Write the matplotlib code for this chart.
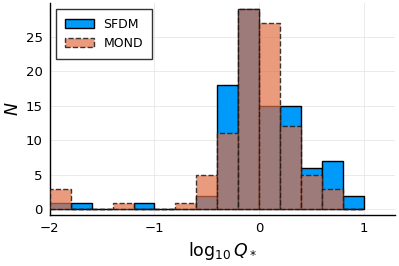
import matplotlib.pyplot as plt
import numpy as np

# bin edges of log10 Q*
edges = np.round(np.arange(-2.0, 1.0001, 0.2), 2)
sfdm_counts = [1, 1, 0, 0, 1, 0, 0, 2, 18, 29, 15, 15, 6, 7, 2]
mond_counts = [3, 0, 0, 1, 0, 0, 1, 5, 11, 29, 27, 12, 5, 3, 0]

fig = plt.figure(figsize=(3.99, 2.66), dpi=100)
ax = fig.add_axes([0.125, 0.19, 0.865, 0.8])

centers = edges[:-1] + 0.1
ax.hist(centers, bins=edges, weights=sfdm_counts, color='#009AFA',
        edgecolor='black', linewidth=1.0, label='SFDM', zorder=2)
ax.hist(centers, bins=edges, weights=mond_counts, color=(0.886, 0.435, 0.275, 0.7),
        edgecolor=(0.1, 0.1, 0.1, 0.85), linewidth=1.0, linestyle='--', label='MOND', zorder=3)

ax.set_xlim(-2, 1.3)
ax.set_ylim(-0.87, 29.9)
ax.set_xticks([-2, -1, 0, 1])
ax.set_yticks([0, 5, 10, 15, 20, 25])
ax.grid(True, color='#e6e6e6', linewidth=0.6, zorder=0)
ax.set_axisbelow(True)
for s in ['top', 'right']:
    ax.spines[s].set_visible(False)
ax.spines['left'].set_linewidth(1.0)
ax.spines['bottom'].set_linewidth(1.0)
ax.tick_params(labelsize=9.5, length=0, pad=5)
ax.set_xlabel(r'$\log_{10} Q_*$', fontsize=12.5, labelpad=3)
ax.set_ylabel(r'$N$', fontsize=12.5, labelpad=3)

leg = ax.legend(loc='upper left', fontsize=9, fancybox=False, framealpha=1,
                edgecolor='#333333', borderpad=0.7, handlelength=2.3)
leg.get_frame().set_linewidth(1.0)

fig.savefig('out.png', dpi=100)
